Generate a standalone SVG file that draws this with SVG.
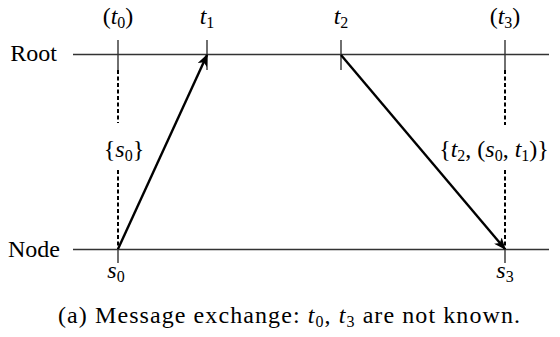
<svg xmlns="http://www.w3.org/2000/svg" width="560" height="337" viewBox="0 0 560 337" font-family="'Liberation Serif', 'DejaVu Serif', serif">
<style>
text{font-family:'Liberation Serif','DejaVu Serif',serif;font-size:24px;fill:#000}
.it{font-style:italic}
.sub{font-size:16px}
.axis{stroke:#333;stroke-width:1.4;fill:none}
.tick{stroke:#333;stroke-width:1.4}
.dash{stroke:#000;stroke-width:2;stroke-dasharray:4 2.5}
.msg{stroke:#000;stroke-width:2.4;fill:none}
</style>
<defs>
<marker id="ah" viewBox="0 0 12 10" refX="11" refY="5" markerWidth="12" markerHeight="10" markerUnits="userSpaceOnUse" orient="auto">
<path d="M0,0 L12,5 L0,10 L3,5 Z" fill="#000"/>
</marker>
</defs>
<rect width="560" height="337" fill="#fff"/>
<g id="root">
<text x="57" y="61" text-anchor="end">Root</text>
<line class="axis" x1="73" y1="54.5" x2="549" y2="54.5"/>
<line class="tick" x1="118" y1="40" x2="118" y2="70"/>
<line class="tick" x1="207" y1="40" x2="207" y2="70"/>
<line class="tick" x1="341" y1="40" x2="341" y2="70"/>
<line class="tick" x1="505" y1="40" x2="505" y2="70"/>
<text x="118" y="24" text-anchor="middle">(<tspan class="it">t</tspan><tspan class="sub" dy="4">0</tspan><tspan dy="-4">)</tspan></text>
<text x="207" y="24" text-anchor="middle"><tspan class="it">t</tspan><tspan class="sub" dy="4">1</tspan></text>
<text x="341" y="24" text-anchor="middle"><tspan class="it">t</tspan><tspan class="sub" dy="4">2</tspan></text>
<text x="505" y="24" text-anchor="middle">(<tspan class="it">t</tspan><tspan class="sub" dy="4">3</tspan><tspan dy="-4">)</tspan></text>
</g>
<g id="node">
<text x="60" y="257" text-anchor="end">Node</text>
<line class="axis" x1="73" y1="249.5" x2="549" y2="249.5"/>
<line class="tick" x1="118" y1="249" x2="118" y2="263"/>
<line class="tick" x1="505" y1="249" x2="505" y2="263"/>
<text x="116" y="278" text-anchor="middle"><tspan class="it">s</tspan><tspan class="sub" dy="4">0</tspan></text>
<text x="505" y="278" text-anchor="middle"><tspan class="it">s</tspan><tspan class="sub" dy="4">3</tspan></text>
</g>
<g id="label-s0">
<text x="124" y="157" text-anchor="middle">{<tspan class="it">s</tspan><tspan class="sub" dy="4">0</tspan><tspan dy="-4">}</tspan></text>
</g>
<g id="label-t2">
<text x="494" y="157" text-anchor="middle">{<tspan class="it">t</tspan><tspan class="sub" dy="4">2</tspan><tspan dy="-4">, (</tspan><tspan class="it">s</tspan><tspan class="sub" dy="4">0</tspan><tspan dy="-4">, </tspan><tspan class="it">t</tspan><tspan class="sub" dy="4">1</tspan><tspan dy="-4">)}</tspan></text>
</g>
<g id="connectors">
<line class="dash" x1="118" y1="70" x2="118" y2="123"/>
<line class="dash" x1="118" y1="170" x2="118" y2="249"/>
<line class="dash" x1="505" y1="70" x2="505" y2="125"/>
<line class="dash" x1="505" y1="170" x2="505" y2="249"/>
<line class="msg" x1="118" y1="249" x2="207" y2="55" marker-end="url(#ah)"/>
<line class="msg" x1="341" y1="55" x2="505" y2="249" marker-end="url(#ah)"/>
</g>
<g id="caption">
<text x="58" y="323" textLength="462" lengthAdjust="spacing">(a)  Message exchange: <tspan class="it">t</tspan><tspan class="sub" dy="4">0</tspan><tspan dy="-4">, </tspan><tspan class="it">t</tspan><tspan class="sub" dy="4">3</tspan><tspan dy="-4"> are not known.</tspan></text>
</g>
</svg>
